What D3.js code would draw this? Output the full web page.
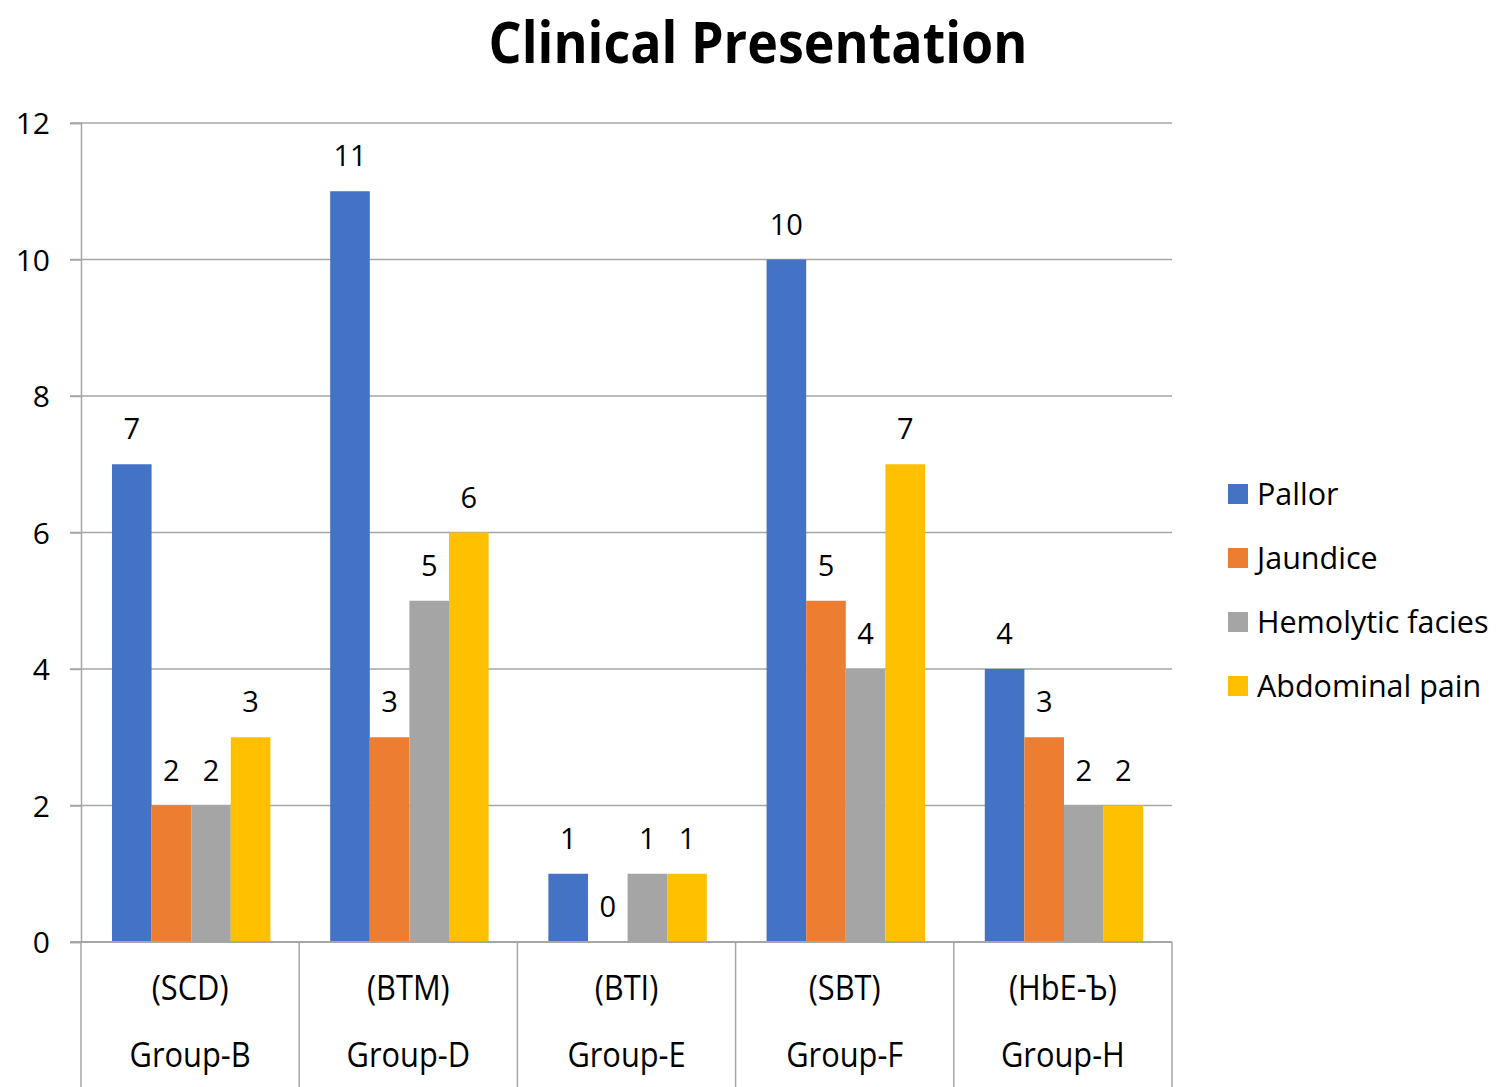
<!DOCTYPE html>
<html><head><meta charset="utf-8">
<script src="https://cdn.jsdelivr.net/npm/d3@7"></script>
<style>
body{margin:0;background:#fff;}
text{font-family:"Open Sans","Noto Sans",sans-serif;fill:#000;}
</style></head>
<body><svg id="c" width="1500" height="1087"></svg>
<script>
const categories = ["Group-B","Group-D","Group-E","Group-F","Group-H"];
const subLabels = ["(SCD)","(BTM)","(BTI)","(SBT)","(HbE-Ъ)"];
const series = ["Pallor","Jaundice","Hemolytic facies","Abdominal pain"];
const pallor = [7,11,1,10,4];
const jaundice = [2,3,0,5,3];
const hemolytic = [2,5,1,4,2];
const abdominal = [3,6,1,7,2];
const yTicks = [0,2,4,6,8,10,12];
const colors = ["#4472C4","#ED7D31","#A5A5A5","#FFC000"];
const values = [pallor,jaundice,hemolytic,abdominal];

const svg = d3.select("#c");
const L=81,R=1172,T=123,B=942;
const y = d3.scaleLinear().domain([0,12]).range([B,T]);
const x0 = d3.scaleBand().domain(categories).range([L,R]).padding(0);
const bw = x0.bandwidth();
const x1 = d3.scaleBand().domain(series).range([bw*0.142, bw*0.868]).padding(0);

// gridlines
svg.append("g").selectAll("line").data(yTicks.filter(d=>d>0)).join("line")
  .attr("x1",70).attr("x2",R).attr("y1",d=>y(d)).attr("y2",d=>y(d))
  .attr("stroke","#a6a6a6").attr("stroke-width",1.5);

// y axis
const yAxis = d3.axisLeft(y).tickValues(yTicks).tickSize(11).tickPadding(0).tickFormat(d3.format("d"));
const ga = svg.append("g").attr("transform",`translate(${L},0)`).call(yAxis);
ga.select(".domain").attr("stroke","#a6a6a6").attr("stroke-width",1.5);
ga.selectAll(".tick line").attr("stroke","#a6a6a6").attr("stroke-width",1.5);
ga.selectAll(".tick text").attr("font-size",30).attr("x",-31).attr("dy","0.35em")
  .style("font-family","'Open Sans'");

// bars
const groups = svg.append("g").selectAll("g").data(categories).join("g")
  .attr("transform",d=>`translate(${x0(d)},0)`);
groups.selectAll("rect").data((d,i)=>series.map((s,j)=>({s,j,v:values[j][i]}))).join("rect")
  .attr("x",d=>x1(d.s)).attr("width",x1.bandwidth())
  .attr("y",d=>y(d.v)).attr("height",d=>B-y(d.v))
  .attr("fill",d=>colors[d.j]);
groups.selectAll("text.lbl").data((d,i)=>series.map((s,j)=>({s,j,v:values[j][i]}))).join("text")
  .attr("class","lbl")
  .attr("x",d=>x1(d.s)+x1.bandwidth()/2).attr("y",d=>y(d.v)-35)
  .attr("text-anchor","middle").attr("font-size",29).attr("dy","0.35em")
  .text(d=>d.v);

// x axis baseline
svg.append("line").attr("x1",70).attr("x2",R).attr("y1",B).attr("y2",B)
  .attr("stroke","#a6a6a6").attr("stroke-width",2);
// category separators
const seps = categories.map(c=>x0(c)).concat([R]);
svg.append("g").selectAll("line").data(seps).join("line")
  .attr("x1",d=>d).attr("x2",d=>d).attr("y1",B).attr("y2",1087)
  .attr("stroke","#a6a6a6").attr("stroke-width",1.5);
// category labels
const xl = svg.append("g").selectAll("g").data(categories).join("g")
  .attr("transform",d=>`translate(${x0(d)+bw/2},0)`);
xl.append("text").attr("text-anchor","middle")
  .attr("transform","translate(0,1000) scale(1.1,1.25)")
  .attr("font-size",28).text((d,i)=>subLabels[i]);
xl.append("text").attr("text-anchor","middle")
  .attr("transform","translate(0,1067) scale(1.1,1.25)")
  .attr("font-size",28).text(d=>d);

// title
svg.append("text").attr("text-anchor","middle")
  .attr("transform","translate(758,63) scale(1,1.1)")
  .attr("font-size",52).attr("font-weight","bold").text("Clinical Presentation");

// legend
const lg = svg.append("g").selectAll("g").data(series).join("g")
  .attr("transform",(d,i)=>`translate(1228,${494+i*64})`);
lg.append("rect").attr("x",0).attr("y",-10).attr("width",20).attr("height",20)
  .attr("fill",(d,i)=>colors[i]);
lg.append("text").attr("x",29).attr("dy","0.36em").attr("font-size",30.5).text(d=>d);
</script></body></html>
